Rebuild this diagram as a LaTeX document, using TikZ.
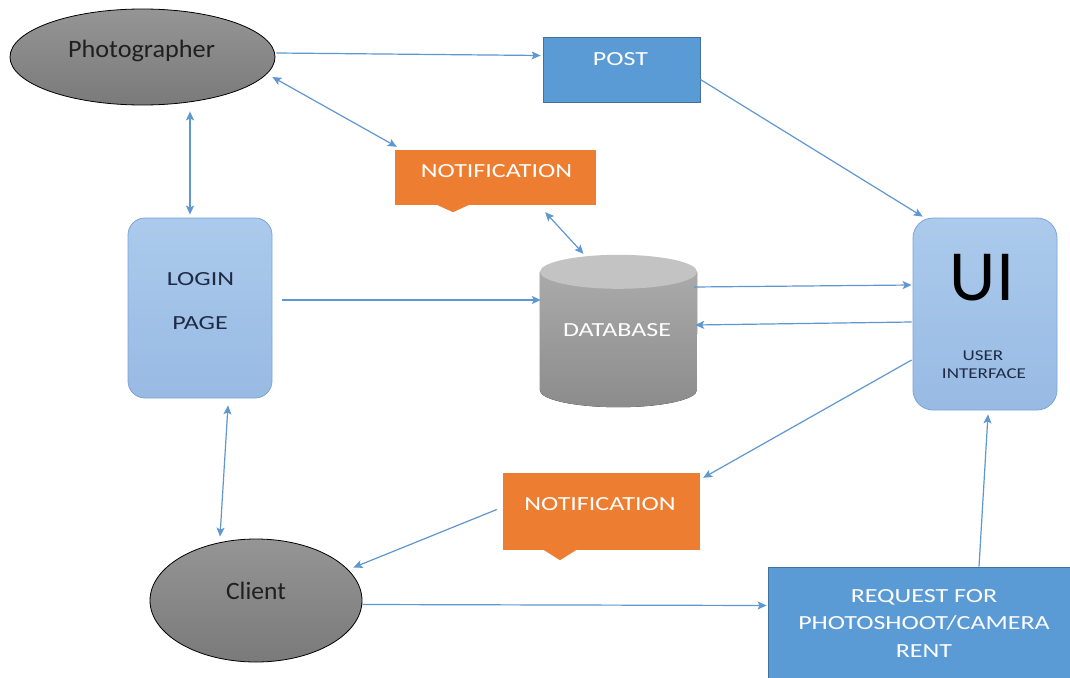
\documentclass[tikz,border=0pt]{standalone}
\usepackage{fontspec}
\setmainfont{Carlito}
\usetikzlibrary{arrows.meta,calc,shapes.geometric}

\definecolor{flowblue}{HTML}{5F97D0}
\definecolor{boxblue}{HTML}{5B9BD5}
\definecolor{boxedge}{HTML}{41719C}
\definecolor{noteorange}{HTML}{ED7D31}
\definecolor{paletop}{HTML}{ABCAEC}
\definecolor{palebot}{HTML}{98BAE3}
\definecolor{paleedge}{HTML}{7CA5D6}
\definecolor{actortop}{HTML}{959595}
\definecolor{actorbot}{HTML}{7A7A7A}
\definecolor{dbtop}{HTML}{C3C3C3}
\definecolor{dbbodytop}{HTML}{AAAAAA}
\definecolor{dbbodybot}{HTML}{8C8C8C}
\definecolor{inktext}{HTML}{1F2A44}

% wide capitals as set in the boxes
\newcommand{\wide}[1]{\scalebox{1.3}[1]{#1}}

\begin{document}
\begin{tikzpicture}[x=1pt, y=-1pt,
  actor/.style={ellipse, draw=black, line width=0.8pt, top color=actortop, bottom color=actorbot, inner sep=0pt},
  block/.style={rectangle, draw=boxedge, line width=0.8pt, fill=boxblue, inner sep=0pt},
  panel/.style={rectangle, rounded corners=17pt, draw=paleedge, line width=0.8pt, top color=paletop, bottom color=palebot, inner sep=0pt},
  note/.style={rectangle, fill=noteorange, inner sep=0pt},
  lbl/.style={inner sep=0pt, anchor=base, font=\fontsize{20}{24}\selectfont, text=white},
  flow/.style={draw=flowblue, line width=1.2pt, -{Stealth[length=9pt,width=8pt,inset=2pt]}},
  both/.style={draw=flowblue, line width=1.2pt, {Stealth[length=9pt,width=8pt,inset=2pt]}-{Stealth[length=9pt,width=8pt,inset=2pt]}}]

\useasboundingbox[fill=white] (0,0) rectangle (1070,677);

% actors
\node[actor, minimum width=265pt, minimum height=96pt] (ph) at (142.5,57) {};
\node[actor, minimum width=212pt, minimum height=123pt] (cl) at (256,600.5) {};

% post box
\node[block, minimum width=157pt, minimum height=65pt] (post) at (621.5,69.5) {};

% notification callouts
\node[note, minimum width=201pt, minimum height=55pt] (nt) at (495.5,177.5) {};
\fill[noteorange] ($(nt.south)+(-60,-1)$) -- ($(nt.south)+(-42.5,7)$) -- ($(nt.south)+(-25,-1)$) -- cycle;
\node[note, minimum width=197pt, minimum height=77pt] (nb) at (601.5,511.5) {};
\fill[noteorange] ($(nb.south)+(-59,-1)$) -- ($(nb.south)+(-41.5,10)$) -- ($(nb.south)+(-24,-1)$) -- cycle;

% rounded panels
\node[panel, minimum width=144pt, minimum height=180pt] (login) at (200,308) {};
\node[panel, rounded corners=20pt, minimum width=144pt, minimum height=192pt] (ui) at (985,314) {};

% database cylinder
\node[minimum width=157pt, minimum height=152pt, inner sep=0pt] (db) at (618.5,331) {};
\fill[top color=dbbodytop, bottom color=dbbodybot]
  ($(db.north west)+(0,17)$) -- ($(db.south west)+(0,-17)$)
  arc[start angle=180, end angle=360, x radius=78.5pt, y radius=17pt]
  -- ($(db.north east)+(0,17)$) -- cycle;
\fill[dbtop] ($(db.north)+(0,17)$) ellipse[x radius=78.5pt, y radius=17pt];

% request box, running off the lower right edge
\begin{scope}
  \clip (0,0) rectangle (1070,677);
  \node[block, minimum width=304pt, minimum height=115pt] (req) at (920,624.5) {};
\end{scope}

% labels
\node[lbl, text=black!88, font=\fontsize{25}{30}\selectfont] (phT) at (141.5,58) {\scalebox{1.05}[1]{Photographer}};
\node[lbl, text=black!88, font=\fontsize{25}{30}\selectfont] (clT) at (256,599) {\scalebox{1.02}[1]{Client}};
\node[lbl] (postT) at (620.5,66) {\wide{POST}};
\node[lbl] (ntT) at (496.5,177) {\wide{NOTIFICATION}};
\node[lbl] (nbT) at (600,510) {\wide{NOTIFICATION}};
\node[lbl, text=inktext] (loginT) at (200.5,285) {\wide{LOGIN}};
\node[lbl, text=inktext] (pageT) at (200,329) {\wide{PAGE}};
\node[lbl] (dbT) at (617,336) {\wide{DATABASE}};
\node[lbl, text=black, font=\fontsize{72}{80}\selectfont] (uiT) at (982,300) {UI};
\node[lbl, text=inktext, font=\fontsize{15}{18}\selectfont] (userT) at (983,360) {\scalebox{1.27}[1]{USER}};
\node[lbl, text=inktext, font=\fontsize{15}{18}\selectfont] (ifT) at (984,378) {\scalebox{1.27}[1]{INTERFACE}};
\node[lbl] (reqA) at (924,602) {\wide{REQUEST FOR}};
\node[lbl] (reqB) at (924,629) {\wide{PHOTOSHOOT/CAMERA}};
\node[lbl] (reqC) at (924,657) {\wide{RENT}};

% connectors
\draw[flow] ($(ph.east)+(1,-4)$) -- ($(post.west)+(-2,-14)$);
\draw[flow] ($(post.east)+(0,10)$) -- ($(ui.north west)+(10,-1)$);
\draw[both] ($(ph.east)+(-3,20)$) -- ($(nt.north west)+(2,-3)$);
\draw[both] ($(nt.south east)+(-51,7)$) -- ($(db.north)+(-35,-1)$);
\draw[both] ($(ph.south)+(47.5,6)$) -- ($(login.north)+(-10,-3)$);
\draw[flow] ($(login.east)+(10,-8)$) -- ($(db.west)+(1,-31)$);
\draw[flow] ($(db.east)+(-3,-44)$) -- ($(ui.west)+(-1,-29)$);
\draw[flow] ($(ui.west)+(-1,8)$) -- ($(db.east)+(-2,-6)$);
\draw[flow] ($(ui.west)+(-1,46)$) -- ($(nb.north east)+(3,5)$);
\draw[flow] ($(nb.west)+(-6,-2)$) -- ($(cl.east)+(-9,-33)$);
\draw[both] ($(login.south)+(28,7)$) -- ($(cl.north)+(-36,-2)$);
\draw[flow] ($(cl.east)+(0,4)$) -- ($(req.west)+(-1,-19)$);
\draw[flow] ($(req.north)+(59,0)$) -- ($(ui.south)+(3,4)$);

\end{tikzpicture}
\end{document}
